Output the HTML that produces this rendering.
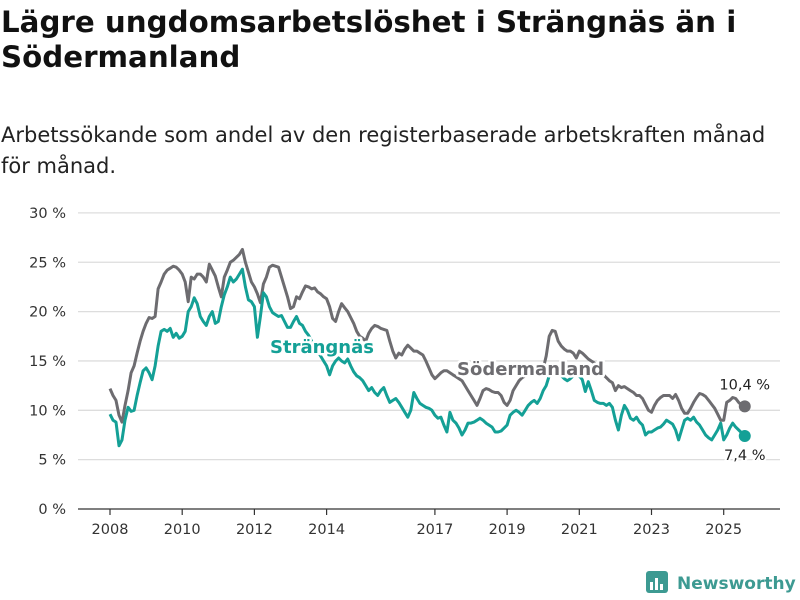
<!DOCTYPE html>
<html><head><meta charset="utf-8">
<style>
body{margin:0;background:#fff;width:800px;height:600px;overflow:hidden;font-family:"DejaVu Sans","Liberation Sans",sans-serif;}
#title{position:absolute;left:1px;top:5px;font-size:29.3px;font-weight:bold;color:#111;line-height:35px;margin:0;white-space:nowrap;}
#sub{position:absolute;left:1px;top:120px;font-size:21px;color:#222;line-height:31px;margin:0;white-space:nowrap;}
svg{position:absolute;left:0;top:0}
</style></head><body>
<h1 id="title">Lägre ungdomsarbetslöshet i Strängnäs än i<br>Södermanland</h1>
<p id="sub">Arbetssökande som andel av den registerbaserade arbetskraften månad<br>för månad.</p>
<svg id="chart" width="800" height="600"></svg>
<script>
const yTicks=[0,5,10,15,20,25,30];
const yTickLabels=["0 %","5 %","10 %","15 %","20 %","25 %","30 %"];
const xTicks=[2008,2010,2012,2014,2017,2019,2021,2023,2025];
const startYear=2008;
const sodermanland=[
12.2,11.5,11.0,9.5,8.8,10.5,12,13.8,14.5,15.8,17.0,18.0,
18.8,19.4,19.3,19.5,22.3,23.0,23.8,24.2,24.4,24.6,24.5,24.2,
23.8,23.0,21.0,23.5,23.3,23.8,23.8,23.5,23.0,24.8,24.2,23.6,
22.5,21.5,23.5,24.2,25.0,25.2,25.5,25.8,26.3,25.0,24.0,23.0,
22.5,21.8,20.9,22.8,23.5,24.5,24.7,24.6,24.5,23.5,22.5,21.5,
20.3,20.5,21.5,21.3,22,22.6,22.5,22.3,22.4,22.0,21.8,21.5,
21.3,20.5,19.3,19.0,20.0,20.8,20.4,20.0,19.4,18.8,18.0,17.5,
17.3,17.0,17.8,18.3,18.6,18.5,18.3,18.2,18.1,17.0,16.0,15.3,
15.8,15.6,16.2,16.6,16.3,16.0,16.0,15.8,15.6,15.0,14.3,13.6,
13.2,13.5,13.8,14.0,14.0,13.8,13.6,13.4,13.2,13.0,12.5,12.0,
11.5,11.0,10.5,11.2,12.0,12.2,12.1,11.9,11.8,11.8,11.5,10.8,
10.5,11.0,12.0,12.5,13.0,13.3,13.5,13.6,13.6,13.7,13.8,14.0,
14.2,15.5,17.5,18.1,18.0,17.0,16.5,16.2,16.0,16.0,15.8,15.3,
16.0,15.8,15.5,15.2,15.0,14.8,14.5,14.0,13.6,13.3,13.0,12.8,
12.0,12.5,12.3,12.4,12.2,12.0,11.8,11.5,11.5,11.2,10.6,10.0,
9.8,10.5,11.0,11.3,11.5,11.5,11.5,11.2,11.6,11.0,10.2,9.7,
9.7,10.2,10.8,11.3,11.7,11.6,11.4,11.0,10.6,10.2,9.6,9.0,
9.0,10.8,11.0,11.3,11.2,10.8,10.5,10.4];
const strangnas=[
9.6,9.0,8.8,6.4,7.0,9.0,10.3,9.9,10.0,11.5,12.8,14.0,
14.3,13.8,13.1,14.5,16.5,18.0,18.2,18.0,18.3,17.4,17.8,17.3,
17.5,18.0,20.0,20.5,21.4,20.8,19.5,19.0,18.6,19.5,20.0,18.8,
19.0,20.5,21.7,22.5,23.5,23.0,23.3,23.8,24.3,22.5,21.2,21.0,
20.5,17.4,19.5,21.9,21.5,20.5,19.9,19.7,19.5,19.6,19.0,18.4,
18.4,19.0,19.5,18.8,18.6,18.0,17.6,17.0,16.5,16.0,15.5,15.0,
14.5,13.6,14.5,15.0,15.3,15.0,14.8,15.2,14.5,13.9,13.5,13.3,
13.0,12.5,12.0,12.3,11.8,11.5,12.0,12.3,11.5,10.8,11.0,11.2,
10.8,10.3,9.8,9.3,10.0,11.8,11.2,10.7,10.5,10.3,10.2,10.0,
9.5,9.2,9.3,8.5,7.8,9.8,9.0,8.7,8.2,7.5,8.0,8.7,
8.7,8.8,9.0,9.2,9.0,8.7,8.5,8.3,7.8,7.8,7.9,8.2,
8.5,9.5,9.8,10.0,9.8,9.5,10.0,10.5,10.8,11.0,10.7,11.2,
12.0,12.5,13.5,14.0,14.5,13.8,13.5,13.2,13.0,13.2,13.5,14.0,
13.5,13.1,11.9,12.9,12.0,11.0,10.8,10.7,10.7,10.5,10.7,10.3,
9.0,8.0,9.5,10.5,10.0,9.2,9.0,9.3,8.8,8.5,7.5,7.8,
7.8,8.0,8.2,8.3,8.6,9.0,8.8,8.6,8.0,7.0,8.0,9.0,
9.2,9.0,9.3,8.8,8.5,8.0,7.5,7.2,7.0,7.5,8.0,8.7,
7.0,7.5,8.2,8.7,8.3,8.0,7.7,7.4];

const NS="http://www.w3.org/2000/svg";
const FONT='DejaVu Sans, Liberation Sans, sans-serif';
const svg=document.getElementById('chart');
const X0=110,PXY=36.1,Y0=509,PXV=9.87;
const xs=t=>X0+(t-startYear)*PXY;
const ys=v=>Y0-v*PXV;
function mk(tag,attrs,parent){const e=document.createElementNS(NS,tag);for(const k in attrs)e.setAttribute(k,attrs[k]);(parent||svg).appendChild(e);return e;}

yTicks.forEach((v,i)=>{
  const g=mk('line',{x1:78,x2:780,y1:ys(v),y2:ys(v),stroke:i===0?'#333':'#ddd','stroke-width':i===0?1.2:1.3});
  
  
  const t=mk('text',{x:66,y:ys(v)+5,'text-anchor':'end','font-size':14.5,fill:'#333','font-family':FONT});
  t.textContent=yTickLabels[i];
  
  
});
xTicks.forEach(y=>{
  const l=mk('line',{x1:xs(y),x2:xs(y),y1:Y0,y2:Y0+6,stroke:'#333','stroke-width':1.2});
  
  
  const t=mk('text',{x:xs(y),y:534,'text-anchor':'middle','font-size':14.5,fill:'#333','font-family':FONT});
  t.textContent=y;
  
  
});
function path(arr){return arr.map((v,i)=>(i?'L':'M')+xs(startYear+i/12).toFixed(1)+','+ys(v).toFixed(1)).join('');}
const pS=mk('path',{d:path(sodermanland),fill:'none',stroke:'#6d6c70','stroke-width':3,'stroke-linejoin':'round'});


const pT=mk('path',{d:path(strangnas),fill:'none',stroke:'#14a096','stroke-width':3,'stroke-linejoin':'round'});



function label(txt,x,y,col,name){
  const t=mk('text',{x:x,y:y,'font-size':18,'font-weight':'bold',fill:col,stroke:'#fff','stroke-width':5,'paint-order':'stroke','stroke-linejoin':'round','font-family':FONT});
  t.textContent=txt;
  
  
}
label('Strängnäs',270,353,'#14a096','strangnas-series-label');
label('Södermanland',457,375,'#6d6c70','sodermanland-series-label');

const nS=sodermanland.length-1,nT=strangnas.length-1;
const dS=mk('circle',{cx:xs(startYear+nS/12),cy:ys(sodermanland[nS]),r:6,fill:'#6d6c70'});


const dT=mk('circle',{cx:xs(startYear+nT/12),cy:ys(strangnas[nT]),r:6,fill:'#14a096'});


function vlabel(v,x,y,name){
  const t=mk('text',{x:x,y:y,'text-anchor':'middle','font-size':14.5,fill:'#222',stroke:'#fff','stroke-width':4,'paint-order':'stroke','font-family':FONT});
  t.textContent=v.toFixed(1).replace('.',',')+' %';
  
  
}
vlabel(sodermanland[nS],xs(startYear+nS/12),ys(sodermanland[nS])-17,'sodermanland-end-value');
vlabel(strangnas[nT],xs(startYear+nT/12),ys(strangnas[nT])+24,'strangnas-end-value');
</script>
<svg width="800" height="600" style="position:absolute;left:0;top:0">
  <rect x="646" y="571" width="22" height="22" rx="3" fill="#3d9a92"/>
  <rect x="650" y="582" width="3" height="8" fill="#fff"/>
  <rect x="655" y="578" width="3" height="12" fill="#fff"/>
  <rect x="660" y="584" width="3" height="6" fill="#fff"/>
  <text x="677" y="589" font-size="17" font-weight="bold" fill="#3d9a92" font-family="DejaVu Sans, Liberation Sans, sans-serif">Newsworthy</text>
</svg>
</body></html>
